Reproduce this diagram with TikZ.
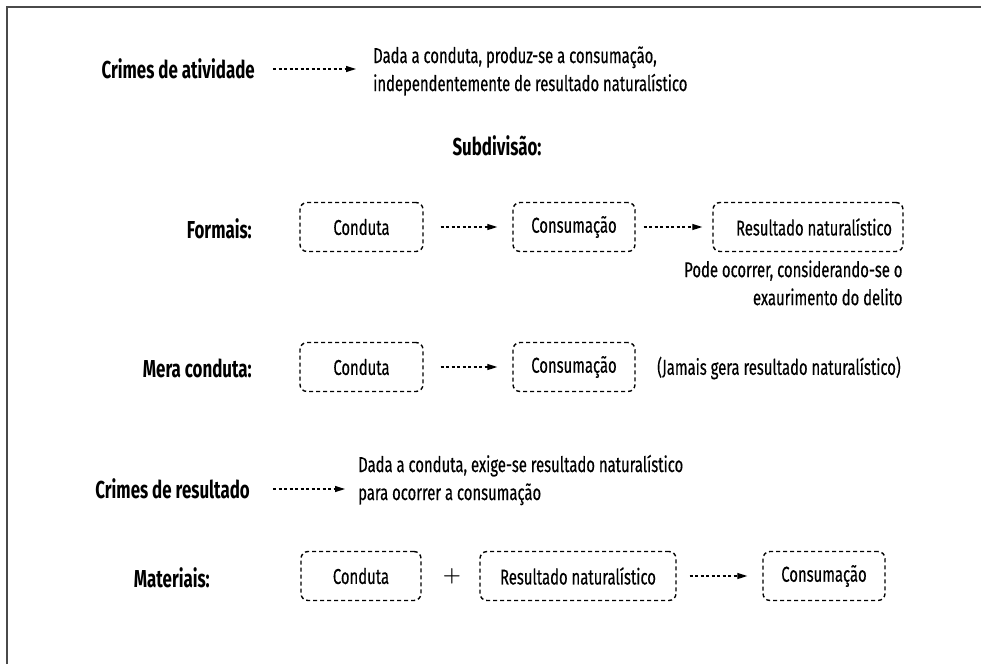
\documentclass[tikz,border=0pt]{standalone}
\usepackage{fontspec}
\setmainfont{Fira Sans}[FakeStretch=0.69, UprightFeatures={FakeBold=0.4}]
\usetikzlibrary{arrows.meta}
\definecolor{framecol}{HTML}{4A4A4A}
\tikzset{
  every node/.style={font=\fontsize{21.5}{28}\selectfont, inner sep=0pt, text=black},
  lbl/.style={font=\fontsize{24.5}{30}\selectfont\bfseries},
  txt/.style={align=left},
  box/.style={draw, rounded corners=7pt, dash pattern=on 4pt off 3pt, line width=1.4pt, minimum height=49pt},
  arr/.style={dash pattern=on 3pt off 2.5pt, line width=1.3pt, -{Triangle[length=10pt,width=6pt]}},
}
\begin{document}
\begin{tikzpicture}[x=1pt,y=-1pt]
\useasboundingbox (0,0) rectangle (981,664);
\draw[framecol, line width=2pt] (6.5,664) -- (6.5,6.5) -- (981,6.5);

% Crimes de atividade
\node[lbl, anchor=east] (ca) at (255,69) {Crimes de atividade};
\node[txt, anchor=west] (catxt) at (373,71) {Dada a conduta, produz-se a consumação,\\independentemente de resultado naturalístico};
\draw[arr, shorten <=18pt, shorten >=17pt] (ca.east) -- (ca.east -| catxt.west);

\node[lbl] (sub) at (497,146) {Subdivisão:};

% Formais
\node[lbl, anchor=east] (fo) at (252,229) {Formais:};
\node[box, minimum width=123pt] (c1) at (361.5,227) {Conduta};
\node[box, minimum width=122pt] (s1) at (574,227) {Consumação};
\node[box, minimum width=190pt] (r1) at (808,227) {\hspace*{12pt}Resultado naturalístico};
\draw[arr, shorten <=17pt, shorten >=15pt] (c1) -- (s1);
\draw[arr, shorten <=8pt, shorten >=10pt] (s1) -- (r1);
\node[txt, align=right, anchor=north east] (pode) at ([xshift=-1pt,yshift=-8pt]r1.south east) {Pode ocorrer, considerando-se o\\exaurimento do delito};

% Mera conduta
\node[lbl, anchor=east] (me) at (252,368) {Mera conduta:};
\node[box, minimum width=123pt] (c2) at (361.5,367) {Conduta};
\node[box, minimum width=122pt] (s2) at (574,367) {Consumação};
\draw[arr, shorten <=17pt, shorten >=15pt] (c2) -- (s2);
\node[anchor=west] (jam) at (657,368) {(Jamais gera resultado naturalístico)};

% Crimes de resultado
\node[lbl, anchor=east] (cr) at (250,489) {Crimes de resultado};
\node[txt, anchor=west] (crtxt) at (358,480) {Dada a conduta, exige-se resultado naturalístico\\para ocorrer a consumação};
\draw[arr, shorten <=23pt, shorten >=13pt] (cr.east) -- (cr.east -| crtxt.west);

% Materiais
\node[lbl, anchor=east] (ma) at (210,578) {Materiais:};
\node[box, minimum width=120pt] (c3) at (361,576) {Conduta};
\node[font=\fontsize{22}{22}\selectfont\boldmath] (plus) at (452,576) {$+$};
\node[box, minimum width=196pt] (r3) at (578,576) {Resultado naturalístico};
\node[box, minimum width=122pt] (s3) at (824,576) {Consumação};
\draw[arr, shorten <=13pt, shorten >=15pt] (r3) -- (s3);
\end{tikzpicture}
\end{document}
